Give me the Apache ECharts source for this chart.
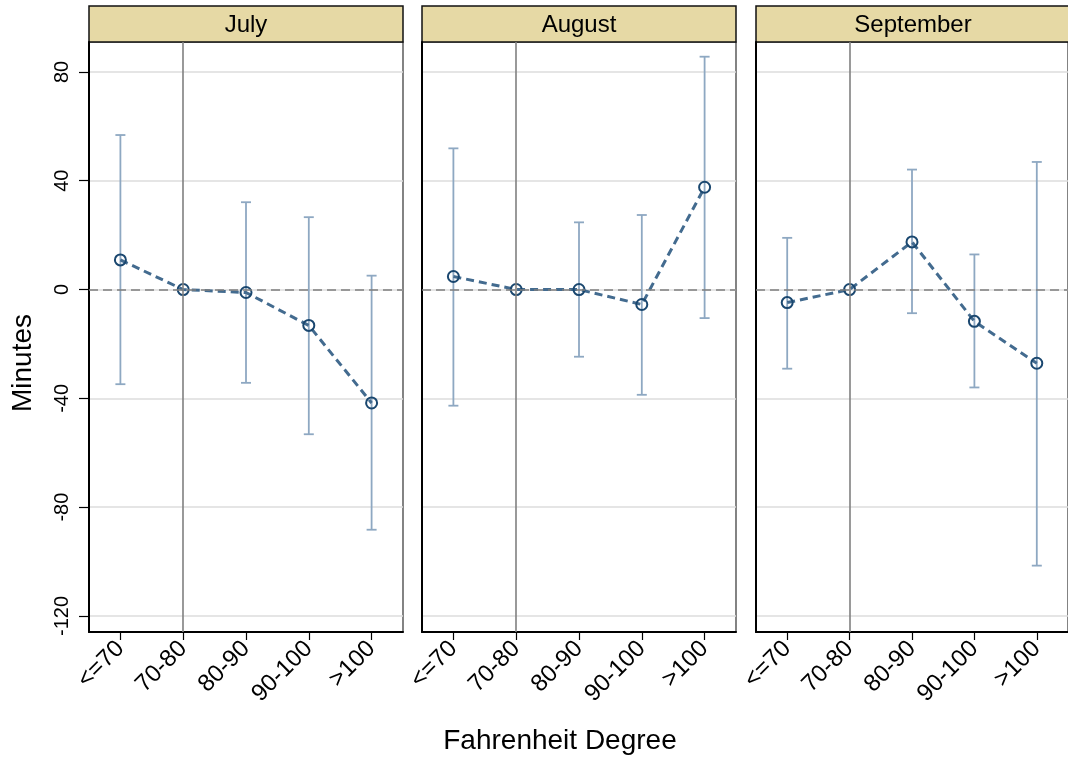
<!DOCTYPE html>
<html>
<head>
<meta charset="utf-8">
<script src="https://cdn.jsdelivr.net/npm/echarts@6/dist/echarts.min.js"></script>
<style>html,body{margin:0;padding:0;background:#fff;}#c{width:1068px;height:761px;}</style>
</head>
<body>
<div id="c"></div>
<script>
// ---- data ----
const categories = ['<=70', '70-80', '80-90', '90-100', '>100'];
const months = ['July', 'August', 'September'];
const yTicks = [-120, -80, -40, 0, 40, 80];

const julyEst = [10.9, 0, -1.1, -13.2, -41.7];
const julyLo  = [-34.8, null, -34.3, -53.2, -88.3];
const julyHi  = [56.8, null, 32.1, 26.6, 5.1];

const augEst = [4.8, 0, 0.0, -5.5, 37.6];
const augLo  = [-42.7, null, -24.7, -38.7, -10.5];
const augHi  = [51.9, null, 24.7, 27.4, 85.6];

const sepEst = [-4.8, 0, 17.5, -11.7, -27.1];
const sepLo  = [-29.1, null, -8.7, -36.0, -101.5];
const sepHi  = [19.0, null, 44.1, 12.9, 46.9];

const refCategory = '70-80';
const yMin = -125.9, yMax = 91;
const yTitle = 'Minutes';
const xTitle = 'Fahrenheit Degree';

// ---- layout ----
const panelLefts = [89, 422, 756];
const panelWidth = 314;
const plotTop = 42, plotBottom = 632;
const headerTop = 6;

const FONT = 'Liberation Sans, Arial, sans-serif';
const ests = [julyEst, augEst, sepEst];
const los = [julyLo, augLo, sepLo];
const his = [julyHi, augHi, sepHi];

const grids = [], xAxes = [], yAxes = [], series = [], graphics = [];

months.forEach((m, i) => {
  grids.push({
    left: panelLefts[i], top: plotTop, width: panelWidth, height: plotBottom - plotTop,
    show: true, borderColor: '#333', borderWidth: 1.2, backgroundColor: '#fff'
  });
  xAxes.push({
    type: 'category', gridIndex: i, data: categories, boundaryGap: true,
    axisLine: { show: true, onZero: false, lineStyle: { color: '#000', width: 2 } },
    axisTick: { show: true, alignWithLabel: true, length: 8, lineStyle: { color: '#000', width: 1.2 } },
    axisLabel: { rotate: 45, fontSize: 24, color: '#000', fontFamily: FONT, margin: 13, interval: 0 },
    splitLine: { show: false }
  });
  yAxes.push({
    type: 'value', gridIndex: i, min: yMin, max: yMax,
    axisLine: { show: true, lineStyle: { color: '#000', width: 2 } },
    axisTick: { show: i === 0, length: 10, customValues: yTicks, lineStyle: { color: '#000', width: 1.2 } },
    axisLabel: { show: i === 0, customValues: yTicks, rotate: 90, fontSize: 20, color: '#000', fontFamily: FONT, margin: 17 },
    splitLine: { show: true, lineStyle: { color: '#dcdcdc', width: 1.5 } }
  });

  const ciData = categories.map((c, k) => [k, los[i][k], his[i][k]]).filter(d => d[1] !== null);
  series.push({
    type: 'custom', xAxisIndex: i, yAxisIndex: i, z: 2,
    data: ciData,
    renderItem: function (params, api) {
      const x = api.value(0);
      const lo = api.coord([x, api.value(1)]);
      const hi = api.coord([x, api.value(2)]);
      const hw = 5;
      const style = { stroke: '#8ea8c2', lineWidth: 1.8, fill: null };
      return {
        type: 'group',
        children: [
          { type: 'line', shape: { x1: lo[0], y1: lo[1], x2: hi[0], y2: hi[1] }, style },
          { type: 'line', shape: { x1: lo[0] - hw, y1: lo[1], x2: lo[0] + hw, y2: lo[1] }, style },
          { type: 'line', shape: { x1: hi[0] - hw, y1: hi[1], x2: hi[0] + hw, y2: hi[1] }, style }
        ]
      };
    },
    markLine: {
      silent: true, symbol: 'none', label: { show: false }, animation: false,
      data: [
        { yAxis: 0, lineStyle: { color: '#7f7f7f', width: 1.6, type: [9, 5] } },
        { xAxis: refCategory, lineStyle: { color: '#808080', width: 1.6, type: 'solid' } }
      ]
    }
  });
  series.push({
    type: 'line', xAxisIndex: i, yAxisIndex: i, z: 3,
    data: ests[i],
    symbol: 'circle', symbolSize: 11,
    lineStyle: { color: '#436b8f', width: 3, type: [8, 5] },
    itemStyle: { color: 'rgba(0,0,0,0)', borderColor: '#1a476f', borderWidth: 2 },
    animation: false
  });

  graphics.push({
    type: 'rect',
    shape: { x: panelLefts[i], y: headerTop, width: panelWidth, height: plotTop - headerTop },
    style: { fill: '#e6d9a5', stroke: '#111', lineWidth: 1.5 }
  });
  graphics.push({
    type: 'text',
    x: panelLefts[i] + panelWidth / 2, y: (headerTop + plotTop) / 2 + 1,
    style: { text: m, fontSize: 24, fontFamily: FONT, fill: '#000', align: 'center', verticalAlign: 'middle' }
  });
});

graphics.push({
  type: 'text', x: 560, y: 741,
  style: { text: xTitle, fontSize: 28, fontFamily: FONT, fill: '#000', align: 'center', verticalAlign: 'middle' }
});
graphics.push({
  type: 'text', x: 23, y: 363, rotation: Math.PI / 2,
  style: { text: yTitle, fontSize: 28, fontFamily: FONT, fill: '#000', align: 'center', verticalAlign: 'middle' }
});

const chart = echarts.init(document.getElementById('c'), null, { renderer: 'canvas' });
chart.setOption({
  animation: false,
  backgroundColor: '#fff',
  grid: grids, xAxis: xAxes, yAxis: yAxes, series: series,
  graphic: graphics
});
</script>
</body>
</html>
